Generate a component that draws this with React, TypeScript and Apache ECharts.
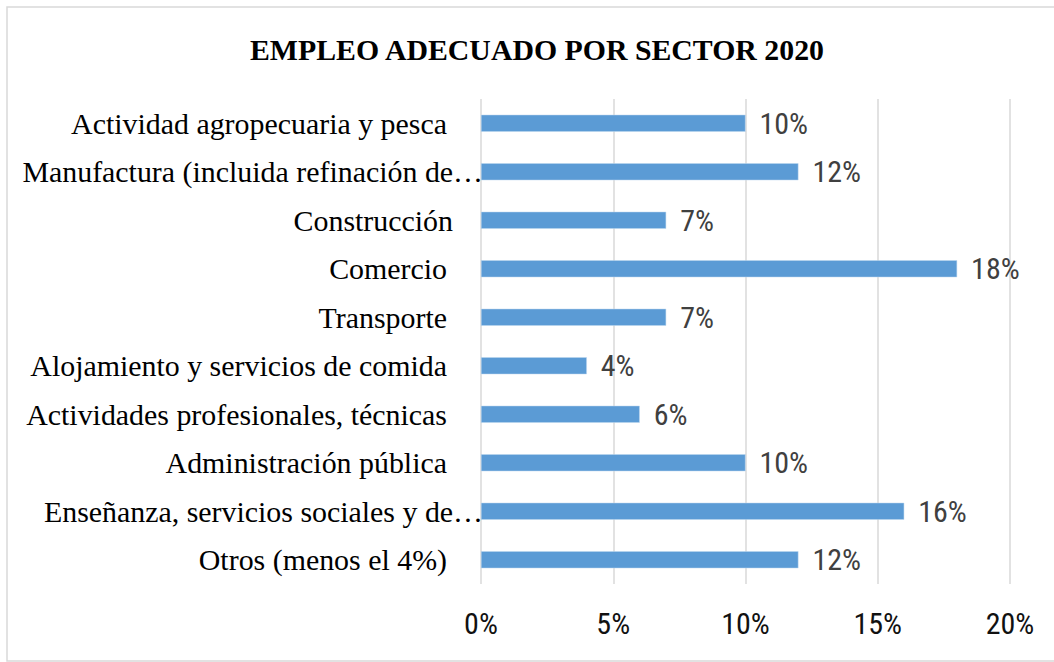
import React, { useEffect, useRef } from "react";
import * as echarts from "echarts";

const titleText = "EMPLEO ADECUADO POR SECTOR 2020";
const categories = [
  "Actividad agropecuaria y pesca",
  "Manufactura (incluida refinación de…",
  "Construcción",
  "Comercio",
  "Transporte",
  "Alojamiento y servicios de comida",
  "Actividades profesionales, técnicas",
  "Administración pública",
  "Enseñanza, servicios sociales y de…",
  "Otros (menos el 4%)",
];
const values = [10, 12, 7, 18, 7, 4, 6, 10, 16, 12];
const xTicks = [0, 5, 10, 15, 20];

const SANS = "'Liberation Sans Narrow', 'Arial Narrow', 'Roboto Condensed', 'Liberation Sans', sans-serif";
const SERIF = "'Liberation Serif', 'Times New Roman', serif";

export default function App() {
  const ref = useRef<HTMLDivElement>(null);
  useEffect(() => {
    if (!ref.current) return;
    const chart = echarts.init(ref.current, null, { renderer: "svg" });
    const option = {
      animation: false,
      backgroundColor: "#ffffff",
      graphic: [
        {
          type: "rect",
          shape: { x: 7, y: 7, width: 1070, height: 654 },
          style: { fill: "none", stroke: "#d9d9d9", lineWidth: 1.5 },
          silent: true,
          z: -1,
        },
      ],
      title: {
        text: titleText,
        left: 245,
        top: 29,
        textStyle: {
          fontFamily: SERIF,
          fontWeight: "bold",
          fontSize: 29.8,
          color: "#000000",
        },
      },
      grid: { left: 481, right: 44, top: 99, bottom: 78, containLabel: false },
      xAxis: {
        type: "value",
        min: 0,
        max: 20,
        interval: 5,
        axisLine: { show: false },
        axisTick: { show: false },
        splitLine: { show: true, lineStyle: { color: "#d9d9d9", width: 1.5 } },
        axisLabel: {
          margin: 24,
          fontFamily: SANS,
          fontSize: 30,
          color: "#111111",
          formatter: (v: number) => (xTicks.includes(v) ? v + "%" : ""),
        },
      },
      yAxis: {
        type: "category",
        inverse: true,
        data: categories,
        axisLine: { show: false },
        axisTick: { show: false },
        axisLabel: {
          margin: -2,
          formatter: (v: string) => {
            if (v.endsWith("…")) return "{t|" + v + "}";
            if (v === "Construcción") return "{c|" + v + "}";
            return "{n|" + v + "}";
          },
          rich: {
            t: { fontFamily: SERIF, fontSize: 29.9, color: "#000", padding: [0, 0, 0, 0] },
            c: { fontFamily: SERIF, fontSize: 29.9, color: "#000", padding: [0, 30, 0, 0] },
            n: { fontFamily: SERIF, fontSize: 29.9, color: "#000", padding: [0, 36, 0, 0] },
          },
        },
      },
      series: [
        {
          type: "bar",
          data: values,
          barWidth: 17,
          itemStyle: { color: "#5b9bd5", borderColor: "#bdd7ee", borderWidth: 0.5 },
          label: {
            show: true,
            position: "right",
            distance: 14,
            formatter: (p: any) => p.value + "%",
            fontFamily: SANS,
            fontSize: 30,
            color: "#404040",
          },
        },
      ],
    };
    chart.setOption(option as any);
    return () => chart.dispose();
  }, []);
  return (
    <div
      ref={ref}
      style={{ position: "fixed", left: 0, top: 0, width: 1054, height: 662 }}
    />
  );
}
